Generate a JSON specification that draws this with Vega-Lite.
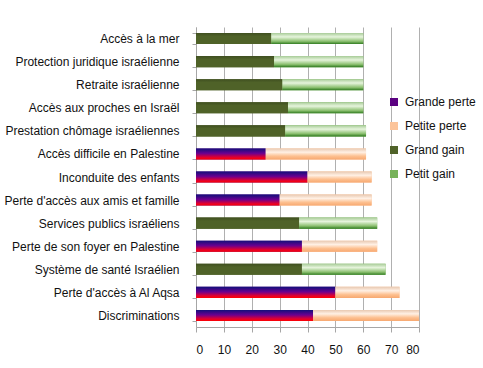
{
  "$schema": "https://vega.github.io/schema/vega-lite/v6.json",
  "autosize": "none",
  "padding": {"left": 196, "top": 27, "right": 64, "bottom": 41},
  "width": 223,
  "height": 300,
  "background": "white",
  "config": {
    "view": {"stroke": null},
    "font": "Liberation Sans"
  },
  "data": {
    "values": [
      {"category": "Accès à la mer", "series": "Grand gain", "value": 27},
      {"category": "Accès à la mer", "series": "Petit gain", "value": 33},
      {"category": "Protection juridique israélienne", "series": "Grand gain", "value": 28},
      {"category": "Protection juridique israélienne", "series": "Petit gain", "value": 32},
      {"category": "Retraite israélienne", "series": "Grand gain", "value": 31},
      {"category": "Retraite israélienne", "series": "Petit gain", "value": 29},
      {"category": "Accès aux proches en Israël", "series": "Grand gain", "value": 33},
      {"category": "Accès aux proches en Israël", "series": "Petit gain", "value": 27},
      {"category": "Prestation chômage israéliennes", "series": "Grand gain", "value": 32},
      {"category": "Prestation chômage israéliennes", "series": "Petit gain", "value": 29},
      {"category": "Accès difficile en Palestine", "series": "Grande perte", "value": 25},
      {"category": "Accès difficile en Palestine", "series": "Petite perte", "value": 36},
      {"category": "Inconduite des enfants", "series": "Grande perte", "value": 40},
      {"category": "Inconduite des enfants", "series": "Petite perte", "value": 23},
      {"category": "Perte d'accès aux amis et famille", "series": "Grande perte", "value": 30},
      {"category": "Perte d'accès aux amis et famille", "series": "Petite perte", "value": 33},
      {"category": "Services publics israéliens", "series": "Grand gain", "value": 37},
      {"category": "Services publics israéliens", "series": "Petit gain", "value": 28},
      {"category": "Perte de son foyer en Palestine", "series": "Grande perte", "value": 38},
      {"category": "Perte de son foyer en Palestine", "series": "Petite perte", "value": 27},
      {"category": "Système de santé Israélien", "series": "Grand gain", "value": 38},
      {"category": "Système de santé Israélien", "series": "Petit gain", "value": 30},
      {"category": "Perte d'accès à Al Aqsa", "series": "Grande perte", "value": 50},
      {"category": "Perte d'accès à Al Aqsa", "series": "Petite perte", "value": 23},
      {"category": "Discriminations", "series": "Grande perte", "value": 42},
      {"category": "Discriminations", "series": "Petite perte", "value": 38}
    ]
  },
  "transform": [
    {"stack": "value", "groupby": ["category"], "sort": [{"field": "series", "order": "ascending"}], "as": ["v0", "v1"]}
  ],
  "encoding": {
    "y": {
      "field": "category", "type": "nominal", "sort": null, "title": null,
      "scale": {"paddingInner": 0.52, "paddingOuter": 0.26},
      "axis": {
        "domainColor": "#a6a6a6", "tickColor": "#a6a6a6", "tickSize": 4, "tickBand": "extent",
        "labelFontSize": 12, "labelColor": "#111", "labelPadding": 13, "labelLimit": 300
      }
    },
    "x": {
      "field": "v0", "type": "quantitative", "title": null,
      "scale": {"domain": [0, 80], "nice": false},
      "axis": {
        "values": [0, 10, 20, 30, 40, 50, 60, 70, 80],
        "grid": true, "gridColor": "#b0b0b0", "domainColor": "#a6a6a6", "tickColor": "#a6a6a6",
        "tickSize": 5, "labelFontSize": 12, "labelColor": "#111", "labelPadding": 12
      }
    },
    "x2": {"field": "v1"}
  },
  "layer": [
    {
      "mark": {"type": "bar"},
      "encoding": {
        "color": {
          "field": "series", "type": "nominal", "title": null,
          "scale": {
            "domain": ["Grande perte", "Petite perte", "Grand gain", "Petit gain"],
            "range": ["#5a0080", "#fcc49a", "#4f6228", "#77b25a"]
          },
          "legend": {
            "orient": "none", "legendX": 192, "legendY": 69,
            "symbolType": "square", "symbolSize": 64, "symbolStrokeWidth": 0,
            "labelFontSize": 12, "labelColor": "#111", "rowPadding": 12, "labelOffset": 5
          }
        }
      }
    },
    {
      "transform": [{"filter": "datum.series === 'Grande perte'"}],
      "mark": {"type": "bar", "color": {"gradient": "linear", "x1": 0, "y1": 0, "x2": 0, "y2": 1,
        "stops": [{"offset": 0, "color": "#10107a"}, {"offset": 0.45, "color": "#6a0090"}, {"offset": 0.8, "color": "#e00030"}, {"offset": 1, "color": "#ff0000"}]}},
      "encoding": {}
    },
    {
      "transform": [{"filter": "datum.series === 'Petite perte'"}],
      "mark": {"type": "bar", "color": {"gradient": "linear", "x1": 0, "y1": 0, "x2": 0, "y2": 1,
        "stops": [{"offset": 0, "color": "#e8c8b0"}, {"offset": 0.35, "color": "#fff0e4"}, {"offset": 0.7, "color": "#fdc090"}, {"offset": 1, "color": "#f7a870"}]}},
      "encoding": {}
    },
    {
      "transform": [{"filter": "datum.series === 'Grand gain'"}],
      "mark": {"type": "bar", "color": {"gradient": "linear", "x1": 0, "y1": 0, "x2": 0, "y2": 1,
        "stops": [{"offset": 0, "color": "#3f4f20"}, {"offset": 0.3, "color": "#4f6228"}, {"offset": 1, "color": "#4f6228"}]}},
      "encoding": {}
    },
    {
      "transform": [{"filter": "datum.series === 'Petit gain'"}],
      "mark": {"type": "bar", "color": {"gradient": "linear", "x1": 0, "y1": 0, "x2": 0, "y2": 1,
        "stops": [{"offset": 0, "color": "#a8cc98"}, {"offset": 0.35, "color": "#e6f4dc"}, {"offset": 0.75, "color": "#8cc070"}, {"offset": 1, "color": "#2e7a1e"}]}},
      "encoding": {}
    }
  ]
}
